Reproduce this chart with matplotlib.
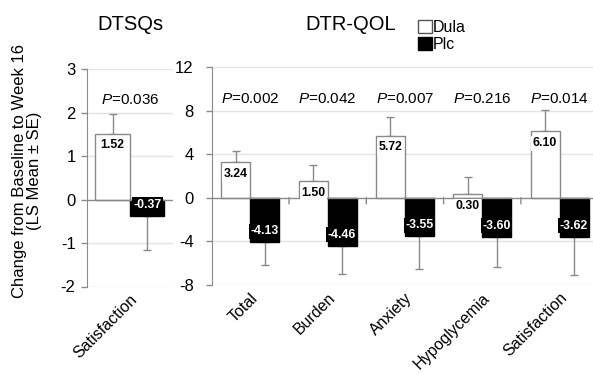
"""
DTSQs / DTR-QOL change from baseline to week 16, Dula vs Plc.
"""

import matplotlib

matplotlib.use("Agg")
import matplotlib.pyplot as plt
from matplotlib.patches import Patch

# ---------------------------------------------------------------------------
# Data
# ---------------------------------------------------------------------------
dtsq_categories = ["Satisfaction"]
dtsq_dula = [1.52]
dtsq_plc = [-0.37]
dtsq_dula_se = [0.45]
dtsq_plc_se = [0.79]
dtsq_p = ["0.036"]
dtsq_ticks = [-2, -1, 0, 1, 2, 3]

dtr_categories = ["Total", "Burden", "Anxiety", "Hypoglycemia", "Satisfaction"]
dtr_dula = [3.24, 1.50, 5.72, 0.30, 6.10]
dtr_plc = [-4.13, -4.46, -3.55, -3.60, -3.62]
dtr_dula_se = [1.09, 1.51, 1.75, 1.58, 1.98]
dtr_plc_se = [2.10, 2.60, 3.05, 2.81, 3.50]
dtr_p = ["0.002", "0.042", "0.007", "0.216", "0.014"]
dtr_ticks = [-8, -4, 0, 4, 8, 12]

FONT = "Liberation Sans"
GREY = "#8a8a8a"
GRID = "#e4e4e4"

plt.rcParams["font.family"] = [FONT, "DejaVu Sans"]
plt.rcParams["mathtext.fontset"] = "custom"
plt.rcParams["mathtext.rm"] = FONT
plt.rcParams["mathtext.it"] = f"{FONT}:italic"


def draw_panel(ax, categories, dula, plc, dula_se, plc_se, pvals, ticks,
               bar_w, p_y, tick_pad):
    """Draw one grouped bar panel in the Excel-like style of the source."""
    n = len(categories)
    xs = list(range(n))
    x_dula = [x - bar_w / 2 for x in xs]
    x_plc = [x + bar_w / 2 for x in xs]

    ax.set_xlim(-0.5, n - 0.5)
    ax.set_ylim(ticks[0], ticks[-1])

    # grid + zero line
    for t in ticks:
        if t != 0:
            ax.axhline(t, color=GRID, lw=1, zorder=0)
    ax.axhline(0, color=GREY, lw=1, zorder=3)

    ax.bar(x_dula, dula, width=bar_w, color="white", edgecolor=GREY, lw=1, zorder=2)
    ax.bar(x_plc, plc, width=bar_w, color="black", edgecolor="black", lw=1, zorder=2)

    # one-sided error bars, drawn under the bars
    ax.errorbar(x_dula, dula, yerr=[[0] * n, dula_se], fmt="none", ecolor=GREY,
                elinewidth=1, capsize=3, capthick=1, zorder=1)
    ax.errorbar(x_plc, plc, yerr=[plc_se, [0] * n], fmt="none", ecolor=GREY,
                elinewidth=1, capsize=3, capthick=1, zorder=1)

    # value labels inside bar ends
    for x, v in zip(x_dula, dula):
        ax.annotate(f"{v:.2f}", (x, v), xytext=(0, -8.5), textcoords="offset points",
                    ha="center", va="center", fontsize=8.8, fontweight="bold",
                    bbox=dict(boxstyle="square,pad=0.12", fc="white", ec="none"),
                    zorder=5)
    for x, v in zip(x_plc, plc):
        ax.annotate(f"{v:.2f}", (x, v), xytext=(0, 8), textcoords="offset points",
                    ha="center", va="center", fontsize=8.8, fontweight="bold",
                    color="white",
                    bbox=dict(boxstyle="square,pad=0.12", fc="black", ec="none"),
                    zorder=5)

    for x, p in zip(xs, pvals):
        ax.text(x, p_y, f"$P$={p}", ha="center", va="center", fontsize=11)

    # small separator ticks under the zero line between categories
    for b in range(1, n):
        ax.annotate("", xy=(b - 0.5, 0), xytext=(0, -4.5), textcoords="offset points",
                    arrowprops=dict(arrowstyle="-", color=GREY, lw=1,
                                    shrinkA=0, shrinkB=0))

    ax.set_yticks(ticks)
    ax.set_yticklabels([str(t) for t in ticks], fontsize=12)
    ax.tick_params(axis="y", length=4, width=1, color=GREY, pad=tick_pad)

    ax.set_xticks(xs)
    ax.set_xticklabels(categories, rotation=45, ha="right", rotation_mode="anchor",
                       fontsize=11.5)
    ax.tick_params(axis="x", length=0, pad=4)

    for side in ("top", "right", "bottom"):
        ax.spines[side].set_visible(False)
    ax.spines["left"].set_color(GREY)
    ax.spines["left"].set_zorder(4)


fig = plt.figure(figsize=(5.93, 3.75), dpi=100)
ax_l = fig.add_axes([86.7 / 593, 0.236, 86.3 / 593, 0.5792])
ax_r = fig.add_axes([211.7 / 593, 0.2413, 386.5 / 593, 0.5792])

draw_panel(ax_l, dtsq_categories, dtsq_dula, dtsq_plc, dtsq_dula_se, dtsq_plc_se,
           dtsq_p, dtsq_ticks, bar_w=0.4, p_y=2.29, tick_pad=4)
draw_panel(ax_r, dtr_categories, dtr_dula, dtr_plc, dtr_dula_se, dtr_plc_se,
           dtr_p, dtr_ticks, bar_w=0.375, p_y=9.1, tick_pad=9)

fig.text(130 / 593, 1 - 25 / 375, "DTSQs", ha="center", va="center", fontsize=14.5)
fig.text(351 / 593, 1 - 25 / 375, "DTR-QOL", ha="center", va="center", fontsize=14.5)
fig.text(27 / 593, 1 - 171 / 375, "Change from Baseline to Week 16\n(LS Mean \u00b1 SE)",
         rotation=90, ha="center", va="center", fontsize=12, multialignment="center",
         linespacing=1.0)

handles = [Patch(facecolor="white", edgecolor="#555555", lw=1),
           Patch(facecolor="black", edgecolor="black", lw=1)]
fig.legend(handles, ["Dula", "Plc"], loc="upper left",
           bbox_to_anchor=(418 / 593, 1 - 20 / 375), frameon=False, fontsize=11.5,
           handlelength=0.85, handleheight=0.85, handletextpad=0.1,
           labelspacing=0.15, borderpad=0, borderaxespad=0)

fig.savefig("out.png", dpi=100)
